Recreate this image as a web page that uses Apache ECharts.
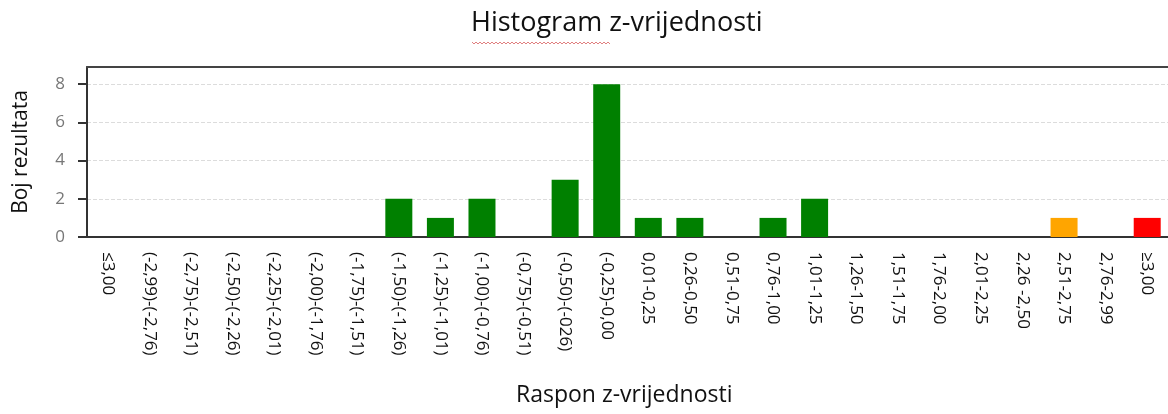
<!DOCTYPE html>
<html>
<head>
<meta charset="utf-8">
<script src="https://cdn.jsdelivr.net/npm/echarts@6/dist/echarts.min.js"></script>
<style>
  html, body { margin: 0; padding: 0; background: #fff; }
  #chart { width: 1168px; height: 414px; }
</style>
</head>
<body>
<div id="chart"></div>
<script>
const titleText = 'Histogram z-vrijednosti';
const yAxisTitle = 'Boj rezultata';
const xAxisTitle = 'Raspon z-vrijednosti';
const categories = [
  '≤3,00', '(-2,99)-(-2,76)', '(-2,75)-(-2,51)', '(-2,50)-(-2,26)', '(-2,25)-(-2,01)',
  '(-2,00)-(-1,76)', '(-1,75)-(-1,51)', '(-1,50)-(-1,26)', '(-1,25)-(-1,01)', '(-1,00)-(-0,76)',
  '(-0,75)-(-0,51)', '(-0,50)-(-026)', '(-0,25)-0,00', '0,01-0,25', '0,26-0,50',
  '0,51-0,75', '0,76-1,00', '1,01-1,25', '1,26-1,50', '1,51-1,75',
  '1,76-2,00', '2,01-2,25', '2,26 -2,50', '2,51-2,75', '2,76-2,99', '≥3,00'
];
const counts = [0, 0, 0, 0, 0, 0, 0, 2, 1, 2, 0, 3, 8, 1, 1, 0, 1, 2, 0, 0, 0, 0, 0, 1, 0, 1];
const barColors = [
  '#008000', '#008000', '#008000', '#008000', '#008000', '#008000', '#008000', '#008000', '#008000', '#008000',
  '#008000', '#008000', '#008000', '#008000', '#008000', '#008000', '#008000', '#008000', '#008000', '#008000',
  '#008000', '#008000', '#008000', '#ffa500', '#ffa500', '#ff0000'
];
const yTicks = [0, 2, 4, 6, 8];

const chart = echarts.init(document.getElementById('chart'), null, { renderer: 'canvas' });
const FONT = '"Open Sans", "Noto Sans", sans-serif';

// red spell-check squiggle under "Histogram"
const squiggle = [];
for (let x = 472; x <= 610; x += 2) squiggle.push([x, (x / 2) % 2 === 0 ? 42 : 44]);

chart.setOption({
  animation: false,
  backgroundColor: '#ffffff',
  grid: { left: 87, top: 67, right: -8, bottom: 177 },
  graphic: [
    { type: 'text', left: 471, top: 10, style: { text: titleText, font: '27px ' + FONT, fill: '#111' } },
    { type: 'polyline', shape: { points: squiggle }, style: { stroke: '#d86060', lineWidth: 0.8, fill: null } },
    { type: 'text', left: 516, top: 384, style: { text: xAxisTitle, font: '23px ' + FONT, fill: '#111' } }
  ],
  xAxis: [{
    type: 'category',
    data: categories,
    axisLine: { show: true, lineStyle: { color: '#333', width: 2 } },
    axisTick: { show: false },
    axisLabel: {
      interval: 0, rotate: -90, margin: 15,
      color: '#111', fontSize: 17, fontFamily: FONT
    }
  }, {
    type: 'category',
    position: 'top',
    data: categories,
    z: 10,
    axisLine: { show: true, lineStyle: { color: '#444', width: 2 } },
    axisTick: { show: false },
    axisLabel: { show: false },
    splitLine: { show: false }
  }],
  yAxis: {
    type: 'value',
    min: 0, max: 8.9, interval: 2,
    name: yAxisTitle,
    nameLocation: 'middle',
    nameGap: 55,
    nameTextStyle: { fontSize: 21, color: '#111', fontFamily: FONT },
    axisLine: { show: true, lineStyle: { color: '#333', width: 2 } },
    axisTick: { show: true, length: 9, lineStyle: { color: '#333', width: 2 } },
    axisLabel: {
      margin: 22, color: '#777', fontSize: 17, fontFamily: FONT,
      showMaxLabel: false,
      formatter: v => (yTicks.indexOf(v) >= 0 ? String(v) : '')
    },
    splitLine: { show: true, lineStyle: { color: '#dcdcdc', type: 'dashed', width: 1 } }
  },
  series: [{
    type: 'bar',
    xAxisIndex: 0,
    data: counts.map((v, i) => ({ value: v, itemStyle: { color: barColors[i] } })),
    barWidth: 27
  }]
});
</script>
</body>
</html>
